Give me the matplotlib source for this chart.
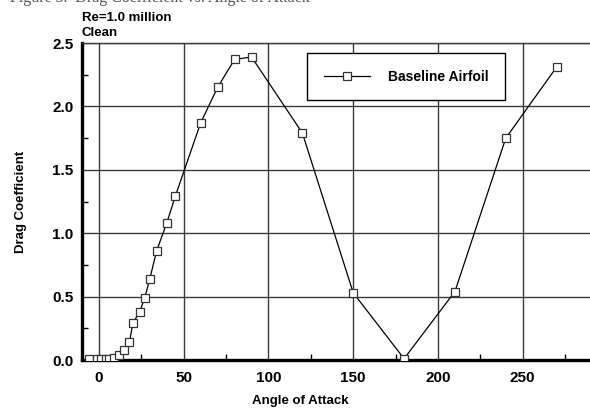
import matplotlib
matplotlib.use("Agg")
import matplotlib.pyplot as plt
from matplotlib.ticker import MultipleLocator, FuncFormatter

# Angle of attack (deg) and drag coefficient, baseline airfoil, Re = 1.0 million, clean
angle = [-6, -1, 1, 4, 6, 9, 12, 15, 18, 20, 24, 27, 30, 34, 40, 45,
         60, 70, 80, 90, 120, 150, 180, 210, 240, 270]
cd = [0.01, 0.005, 0.005, 0.006, 0.008, 0.018, 0.04, 0.075, 0.14, 0.29,
      0.38, 0.49, 0.64, 0.86, 1.08, 1.29, 1.87, 2.15, 2.37, 2.39,
      1.79, 0.53, 0.01, 0.54, 1.75, 2.31]
series_label = "Baseline Airfoil"
notes = ["Re=1.0 million", "Clean"]
x_label = "Angle of Attack"
y_label = "Drag Coefficient"
caption = "Figure 3.  Drag Coefficient vs. Angle of Attack"

W, H = 590, 411
fig = plt.figure(figsize=(W / 100, H / 100), dpi=100)
sans = "Liberation Sans"

# axes box in pixel units, extending past the right edge of the figure
left_px, top_px, bottom_px, right_px = 82, 43, 360, 607.5
ax = fig.add_axes([left_px / W, 1 - bottom_px / H,
                   (right_px - left_px) / W, (bottom_px - top_px) / H])

ax.plot(angle, cd, color="black", lw=0.9, marker="s", markersize=6.0,
        markerfacecolor="white", markeredgecolor="#333333",
        markeredgewidth=0.9, label=series_label, zorder=3)

ax.set_xlim(-10, 300)
ax.set_ylim(0, 2.5)
ax.xaxis.set_major_locator(MultipleLocator(50))
ax.xaxis.set_minor_locator(MultipleLocator(25))
ax.yaxis.set_major_locator(MultipleLocator(0.5))
ax.yaxis.set_minor_locator(MultipleLocator(0.25))
ax.yaxis.set_major_formatter(FuncFormatter(lambda v, p: f"{v:.1f}"))
# the 300 tick sits beyond the visible canvas
ax.xaxis.set_major_formatter(
    FuncFormatter(lambda v, p: "" if v > 260 else f"{v:.0f}"))

ax.grid(True, which="major", color="#3a3a3a", lw=1.0)
ax.set_axisbelow(True)

ax.tick_params(which="both", direction="in", length=4, width=1,
               colors="black")
ax.tick_params(which="major", length=0, pad=6)
ax.tick_params(axis="x", which="major", pad=8)
for lab in ax.get_xticklabels() + ax.get_yticklabels():
    lab.set_fontfamily(sans)
    lab.set_fontweight("bold")
    lab.set_fontsize(11)

ax.spines["left"].set_linewidth(2.4)
ax.spines["bottom"].set_linewidth(2.4)
ax.spines["top"].set_linewidth(1.0)
ax.spines["top"].set_color("#3a3a3a")
ax.spines["right"].set_visible(False)

ax.set_xlabel(x_label, fontfamily=sans, fontweight="bold", fontsize=9.5)
ax.set_ylabel(y_label, fontfamily=sans, fontweight="bold", fontsize=9.5)
ax.xaxis.set_label_coords((300 - left_px) / (right_px - left_px), -0.11)
ax.yaxis.set_label_coords(-(left_px - 27) / (right_px - left_px), 0.5)

leg = ax.legend(loc="upper left",
                bbox_to_anchor=((307 - left_px) / (right_px - left_px),
                                1 - (53 - top_px) / (bottom_px - top_px)),
                frameon=True, fancybox=False, edgecolor="black",
                prop={"family": sans, "weight": "bold", "size": 10},
                handlelength=3.3, borderpad=1.2, borderaxespad=0,
                handletextpad=1.3, numpoints=1)
leg.get_frame().set_linewidth(1.0)
leg.get_frame().set_alpha(1)

fig.text(left_px / W, 1 - 21 / H, notes[0], fontfamily=sans,
         fontweight="bold", fontsize=9.5, va="baseline")
fig.text(left_px / W, 1 - 36 / H, notes[1], fontfamily=sans,
         fontweight="bold", fontsize=9.5, va="baseline")

# caption above the chart, only its lower edge falls inside the canvas
fig.text(10 / W, 1 - 1.5 / H, caption, fontfamily="Liberation Serif",
         fontsize=11.5, va="baseline", ha="left", color="#555555")

fig.savefig("out.png", dpi=100)
